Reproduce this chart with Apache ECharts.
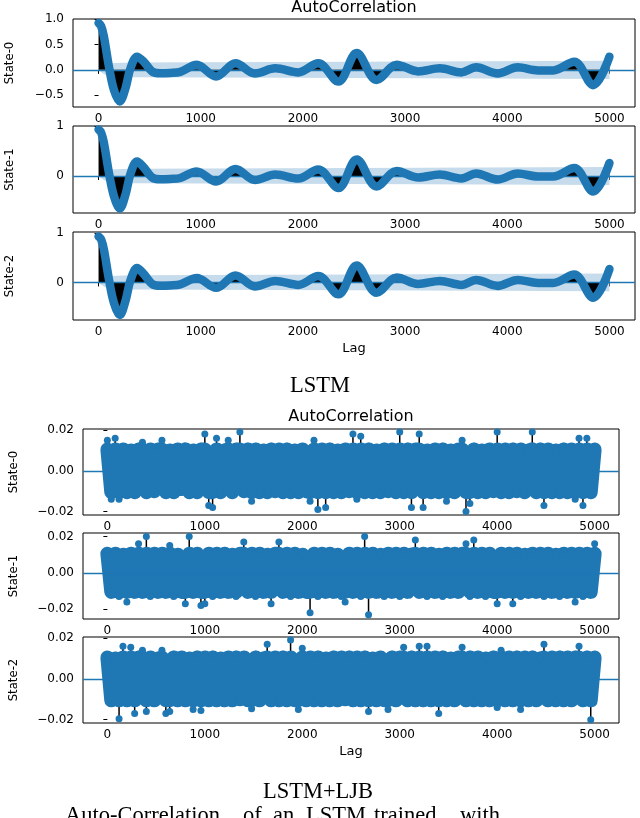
<!DOCTYPE html>
<html>
<head>
    <meta charset="utf-8">
    <title>AutoCorrelation</title>
    <script src="https://cdn.jsdelivr.net/npm/echarts@6.0.0/dist/echarts.min.js"></script>
    <style>
        html, body { margin: 0; padding: 0; background: #fff; }
    </style>
</head>
<body>
    <div id="main" style="width: 640px;height:818px;"></div>
    <script type="text/javascript">
        // ---- LSTM: smooth ACF, read at key lags ----
        var topLags = [0, 25, 52, 101, 150, 208, 264, 312, 377, 443, 524, 605, 700, 800, 960, 1150, 1340, 1530, 1730, 1955, 2150, 2347, 2526, 2721, 2917, 3128, 3340, 3550, 3695, 3906, 4102, 4300, 4450, 4655, 4840, 5000];
        var topState0 = [0.92, 0.86, 0.66, 0.07, -0.39, -0.62, -0.36, 0.03, 0.26, 0.16, -0.03, -0.066, -0.06, -0.04, 0.10, -0.13, 0.13, -0.07, 0.03, -0.05, 0.13, -0.23, 0.33, -0.20, 0.10, -0.03, 0.03, -0.05, 0.05, -0.07, 0.05, -0.01, -0.01, 0.16, -0.30, 0.26];
        var topState1 = [0.93, 0.87, 0.67, 0.07, -0.40, -0.65, -0.37, 0.04, 0.29, 0.17, -0.03, -0.067, -0.06, -0.04, 0.09, -0.11, 0.14, -0.08, 0.03, -0.05, 0.13, -0.24, 0.33, -0.21, 0.10, -0.03, 0.03, -0.05, 0.05, -0.07, 0.05, -0.01, -0.01, 0.16, -0.31, 0.26];
        var topState2 = [0.93, 0.87, 0.67, 0.07, -0.41, -0.66, -0.37, 0.04, 0.29, 0.17, -0.03, -0.067, -0.06, -0.04, 0.09, -0.11, 0.14, -0.08, 0.03, -0.05, 0.13, -0.24, 0.34, -0.21, 0.10, -0.03, 0.03, -0.05, 0.05, -0.07, 0.05, -0.01, -0.01, 0.16, -0.31, 0.27];
        var topBandLags = [0, 30, 60, 120, 300, 1000, 2500, 5000];
        var topBand = [0, 0.05, 0.09, 0.13, 0.145, 0.15, 0.16, 0.18];

        // ---- LSTM+LJB: noisy ACF, one value every LAG_STEP lags ----
        var LAG_STEP = 40;
        var ljbState0 = [
            .015, -.014, .016, -.014, .011, -.012, .010, -.011, .012, .014,
            -.012, .011, -.010, .012, .015, -.011, .010, -.012, .011, -.009,
            .012, -.012, .010, -.011, .012, .018, -.017, -.018, .016, -.011,
            .010, .015, -.012, .011, .019, -.010, .012, -.015, .011, -.012,
            .010, -.011, .012, -.010, .011, -.012, .012, -.011, .010, -.012,
            .011, -.010, -.015, .015, -.019, .011, -.018, .012, -.011, .010,
            -.012, .011, -.010, .018, -.014, .017, -.011, .012, -.012, .010,
            -.011, .012, -.010, .011, -.012, .019, -.011, .012, -.018, .011,
            .018, -.018, .010, -.012, .011, -.011, .012, -.015, .010, -.012,
            .011, .015, -.020, -.016, .012, -.011, .010, -.012, .011, -.010,
            .019, -.012, .011, -.011, .012, -.010, .011, -.012, .010, .019,
            -.011, .012, -.017, .011, -.012, .010, -.011, .012, -.012, .011,
            -.014, .016, -.017, .016, -.012, .011
        ];
        var ljbState1 = [
            .012, -.012, .011, -.013, .010, -.016, .012, -.011, .016, -.012,
            .020, -.013, .011, -.012, .012, -.011, .015, -.013, .010, -.012,
            -.017, .020, -.012, .011, -.018, -.017, .012, -.013, .011, -.012,
            .012, -.011, .010, -.013, .012, .017, -.012, .011, -.013, .012,
            -.011, .010, -.017, .012, .017, -.012, .011, -.013, .012, -.012,
            .010, -.011, -.022, .012, -.013, .011, -.012, .012, -.011, .010,
            -.013, -.016, .012, -.012, .011, -.013, .020, -.023, .012, -.011,
            .010, -.013, .012, -.012, .011, -.013, .012, -.011, .010, .018,
            -.012, .012, -.013, .011, -.012, .010, -.013, .012, -.011, .011,
            -.012, .012, .016, -.013, .018, -.012, .011, -.013, .012, -.011,
            -.017, .012, -.012, .011, -.017, .012, -.013, .010, -.012, .012,
            -.011, .011, -.013, .012, -.012, .010, -.013, .012, -.011, .011,
            -.016, .012, -.013, .011, -.012, .016
        ];
        var ljbState2 = [
            .011, -.012, .010, -.0195, .016, -.011, .0155, -.017, .012, .014,
            -.016, .011, -.012, .010, .014, -.017, -.016, .012, -.011, .011,
            -.012, .010, -.015, .012, -.0155, .011, -.012, .012, -.011, .010,
            -.012, .011, -.012, .012, -.010, .011, -.012, -.0146, .012, -.011,
            .010, .017, -.012, .011, -.011, .012, -.012, .019, -.011, -.015,
            .015, -.012, .011, -.011, .012, -.012, .010, -.011, .012, -.012,
            .011, -.010, .012, -.012, .011, -.011, .012, -.016, .010, -.012,
            .011, -.011, -.015, .012, -.012, .011, .0155, -.011, .012, -.012,
            .016, -.011, .016, -.012, .011, -.017, .012, -.011, .010, -.012,
            .011, .0155, -.012, .012, -.011, .011, -.012, .010, -.011, .012,
            -.014, .014, -.012, .011, -.011, .012, -.015, .011, -.012, .012,
            -.011, .010, .017, -.012, .011, -.011, .012, -.012, .011, -.012,
            .012, .016, -.011, .012, -.020, .011
        ];
        var ljbBandLags = [0, 2500, 5000];
        var ljbBand = [0.012, 0.0125, 0.013];
        // the dense body of markers is drawn as a thick zig-zag clipped to this level
        var CORE = 0.0105;

        var xTicks = [0, 1000, 2000, 3000, 4000, 5000];
        var stateNames = ['State-0', 'State-1', 'State-2'];

        var BLUE = '#1f77b4';
        var BAND = '#c6dcec';
        var FONT = 'DejaVu Sans';

        var myChart = echarts.init(document.getElementById('main'));

        function pairs(xs, ys, sign) {
            return xs.map(function (x, i) { return [x, (sign || 1) * ys[i]]; });
        }
        function stepPairs(ys) {
            return ys.map(function (v, i) { return [i * LAG_STEP, v]; });
        }
        function corePairs(ys) {
            return ys.map(function (v, i) { return [i * LAG_STEP, Math.max(-CORE, Math.min(CORE, v))]; });
        }
        function minus(s) { return s.replace('-', '\u2212'); }

        // plot boxes (px)
        var grids = [
            {left: 73, right: 5, top: 19, height: 88},
            {left: 73, right: 5, top: 126, height: 87},
            {left: 73, right: 5, top: 232, height: 88},
            {left: 83, right: 21, top: 429, height: 86},
            {left: 83, right: 21, top: 533, height: 86},
            {left: 83, right: 21, top: 637, height: 86}
        ];
        var yRanges = [[-0.73, 1.0], [-0.74, 1.0], [-0.76, 1.02], [-0.0217, 0.0205], [-0.0254, 0.0219], [-0.0216, 0.0205]];
        var yTicks = [[-0.5, 0, 0.5, 1.0], [0, 1], [0, 1], [-0.02, 0, 0.02], [-0.02, 0, 0.02], [-0.02, 0, 0.02]];
        var yDigits = [1, 0, 0, 2, 2, 2];

        var xAxis = [], yAxis = [], series = [];
        grids.forEach(function (g, i) {
            g.show = true;
            g.borderColor = '#000';
            g.borderWidth = 1;
            g.backgroundColor = '#fff';
            xAxis.push({
                type: 'value', gridIndex: i, min: -250, max: 5250,
                axisLine: {show: false},
                axisTick: {show: true, length: 4, lineStyle: {color: '#000'}, customValues: xTicks},
                axisLabel: {color: '#000', fontFamily: FONT, fontSize: 12, margin: 6, customValues: xTicks,
                            formatter: function (v) { return String(v); }},
                splitLine: {show: false}
            });
            yAxis.push({
                type: 'value', gridIndex: i, min: yRanges[i][0], max: yRanges[i][1],
                axisLine: {show: false},
                axisTick: {show: true, length: 4, lineStyle: {color: '#000'}, customValues: yTicks[i]},
                axisLabel: {color: '#000', fontFamily: FONT, fontSize: 12, margin: 9, customValues: yTicks[i],
                            formatter: function (v) { return minus(v.toFixed(yDigits[i])); }},
                splitLine: {show: false}
            });
        });

        var zeroLine = {
            silent: true, symbol: ['none', 'none'], label: {show: false},
            lineStyle: {color: BLUE, width: 1.3, type: 'solid'},
            data: [{yAxis: 0}]
        };

        // LSTM panels
        [topState0, topState1, topState2].forEach(function (vals, i) {
            series.push({
                type: 'line', xAxisIndex: i, yAxisIndex: i, symbol: 'none', z: 1,
                data: pairs(topBandLags, topBand), lineStyle: {width: 0}, areaStyle: {color: BAND, opacity: 1},
                markLine: zeroLine
            });
            series.push({
                type: 'line', xAxisIndex: i, yAxisIndex: i, symbol: 'none', z: 1,
                data: pairs(topBandLags, topBand, -1), lineStyle: {width: 0}, areaStyle: {color: BAND, opacity: 1}
            });
            series.push({
                type: 'line', xAxisIndex: i, yAxisIndex: i, symbol: 'none', z: 3,
                smooth: 0.35,
                data: pairs(topLags, vals),
                lineStyle: {color: BLUE, width: 8.5, cap: 'round', join: 'round'},
                areaStyle: {color: '#000', opacity: 1}
            });
        });

        // LSTM+LJB panels
        [ljbState0, ljbState1, ljbState2].forEach(function (vals, k) {
            var i = k + 3;
            series.push({
                type: 'line', xAxisIndex: i, yAxisIndex: i, symbol: 'none', z: 1,
                data: pairs(ljbBandLags, ljbBand), lineStyle: {width: 0}, areaStyle: {color: BAND, opacity: 1},
                markLine: zeroLine
            });
            series.push({
                type: 'line', xAxisIndex: i, yAxisIndex: i, symbol: 'none', z: 1,
                data: pairs(ljbBandLags, ljbBand, -1), lineStyle: {width: 0}, areaStyle: {color: BAND, opacity: 1}
            });
            // stems
            series.push({
                type: 'bar', xAxisIndex: i, yAxisIndex: i, z: 2, barWidth: 1.5,
                data: stepPairs(vals), itemStyle: {color: '#000'}
            });
            // dense body
            series.push({
                type: 'line', xAxisIndex: i, yAxisIndex: i, z: 3, symbol: 'none',
                data: corePairs(vals),
                lineStyle: {color: BLUE, width: 14, join: 'round', cap: 'round'}
            });
            // markers
            series.push({
                type: 'scatter', xAxisIndex: i, yAxisIndex: i, z: 4,
                symbol: 'circle', symbolSize: 7,
                data: stepPairs(vals),
                itemStyle: {color: BLUE, opacity: 1}
            });
        });

        function text(x, y, str, font, extra) {
            var el = {
                type: 'text', x: x, y: y, silent: true,
                style: {text: str, font: font, fill: '#000', align: 'center', verticalAlign: 'middle',
                        textAlign: 'center', textVerticalAlign: 'middle'}
            };
            if (extra) { for (var k in extra) el[k] = extra[k]; }
            return el;
        }
        function leftText(x, y, str, font) {
            return {
                type: 'text', x: x, y: y, silent: true,
                style: {text: str, font: font, fill: '#000', align: 'left', verticalAlign: 'middle',
                        textAlign: 'left', textVerticalAlign: 'middle'}
            };
        }

        var serif = '22.5px "Liberation Serif", "Times New Roman", serif';
        var labelFont = '13px "DejaVu Sans Condensed", "DejaVu Sans", sans-serif';
        var graphic = [
            text(354, 8, 'AutoCorrelation', '16px "DejaVu Sans"'),
            text(354, 349, 'Lag', '13px "DejaVu Sans"'),
            text(351, 417, 'AutoCorrelation', '16px "DejaVu Sans"'),
            text(351, 752, 'Lag', '13px "DejaVu Sans"'),
            text(320, 386, 'LSTM', serif),
            text(318, 792, 'LSTM+LJB', serif),
            leftText(65, 816, 'Auto-Correlation', serif),
            leftText(243, 816, 'of', serif),
            leftText(273, 816, 'an', serif),
            leftText(306, 816, 'LSTM', serif),
            leftText(374, 816, 'trained', serif),
            leftText(460, 816, 'with', serif)
        ];
        var labelX = [10, 10, 10, 14, 14, 14];
        grids.forEach(function (g, i) {
            graphic.push(text(labelX[i], g.top + g.height / 2, stateNames[i % 3], labelFont, {rotation: Math.PI / 2}));
        });

        var option = {
            animation: false,
            backgroundColor: '#fff',
            grid: grids,
            xAxis: xAxis,
            yAxis: yAxis,
            series: series,
            graphic: graphic
        };
        myChart.setOption(option);
    </script>
</body>
</html>
